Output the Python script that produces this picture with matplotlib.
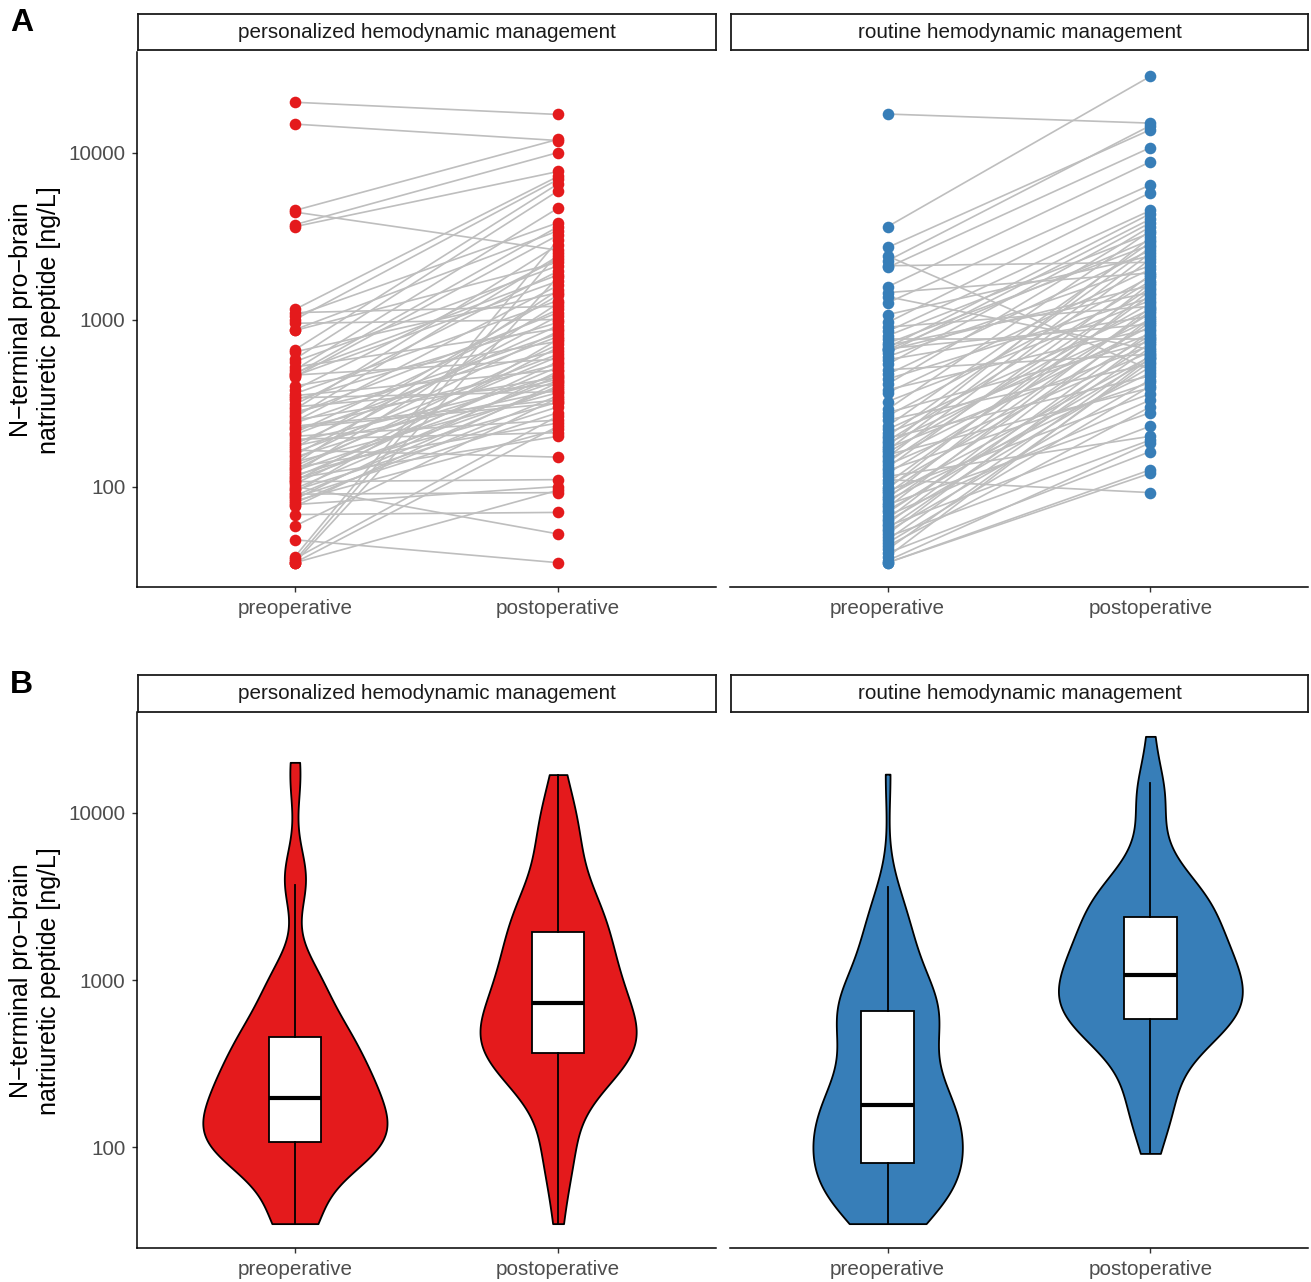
import numpy as np
import matplotlib.pyplot as plt

plt.rcParams['font.family'] = ['Liberation Sans', 'DejaVu Sans']

groups = ['personalized hemodynamic management', 'routine hemodynamic management']
timepoints = ['preoperative', 'postoperative']
group_colors = ['#E41A1C', '#377EB8']

# NT-proBNP [ng/L], one entry per patient (pre and post in the same order)
pers_pre = [20000, 14800, 4500, 4400, 3700, 3600, 1150, 1100, 1050, 1000,
            950, 870, 860, 660, 640, 580, 560, 520, 500, 480,
            470, 465, 460, 455, 400, 380, 360, 350, 340, 330,
            310, 300, 290, 280, 270, 260, 250, 245, 240, 230,
            225, 220, 210, 205, 200, 192, 185, 180, 175, 170,
            165, 160, 155, 150, 145, 140, 137, 133, 130, 127,
            124, 120, 117, 114, 112, 110, 108, 107, 104, 100,
            97, 95, 92, 90, 88, 86, 84, 82, 80, 78,
            76, 68, 58, 48, 38, 37, 36, 35, 35, 35]
pers_post = [16900, 11800, 12000, 2600, 10000, 7700, 7200, 1200, 3800, 6900,
             1000, 3400, 2200, 6500, 1450, 5900, 2100, 880, 4650, 1850,
             3600, 580, 1700, 3200, 740, 2300, 1300, 500, 370, 960,
             1950, 410, 2800, 650, 1100, 2400, 450, 1600, 820, 330,
             316, 540, 1150, 790, 250, 210, 440, 920, 380, 1400,
             150, 620, 1050, 470, 850, 365, 1500, 600, 240, 710,
             430, 1250, 320, 520, 200, 390, 680, 110, 560, 52,
             460, 300, 760, 92, 400, 277, 490, 220, 350, 100,
             420, 70, 340, 35, 3000, 265, 2500, 95, 1800, 230]

rout_pre = [17000, 3600, 2700, 2400, 2250, 2100, 2050, 1570, 1450, 1370,
            1260, 1070, 960, 900, 850, 800, 760, 720, 700, 680,
            670, 660, 655, 630, 600, 575, 540, 500, 470, 440,
            410, 380, 365, 323, 290, 277, 265, 250, 230, 220,
            210, 200, 195, 188, 182, 175, 170, 165, 160, 155,
            150, 145, 140, 135, 130, 125, 120, 115, 110, 105,
            100, 97, 94, 91, 88, 85, 83, 80, 78, 75,
            72, 70, 67, 64, 62, 60, 58, 56, 54, 52,
            50, 48, 46, 44, 42, 40, 38, 36, 35, 35]
rout_post = [15000, 28600, 13700, 500, 14500, 2200, 10700, 8800, 1900, 660,
             6400, 2400, 5750, 1200, 4500, 3300, 760, 2800, 1450, 4300,
             940, 3000, 1600, 4000, 2100, 1050, 3800, 620, 2600, 1350,
             3600, 880, 2000, 1300, 3400, 740, 1800, 540, 2900, 1150,
             820, 2700, 460, 1700, 1000, 3100, 700, 2500, 1250, 390,
             2300, 910, 1550, 640, 1850, 420, 1090, 200, 92, 1400,
             800, 1650, 360, 1120, 600, 1500, 480, 970, 277, 1180,
             580, 720, 330, 1020, 520, 850, 230, 680, 436, 780,
             190, 610, 400, 300, 560, 162, 590, 183, 126, 120]

pre_data = [pers_pre, rout_pre]
post_data = [pers_post, rout_post]

W, H = 1311, 1282
fig = plt.figure(figsize=(W / 100, H / 100), dpi=100)

# work on log10 values, label ticks with the raw values
all_log = np.log10(np.concatenate([pers_pre, pers_post, rout_pre, rout_post]))
span = all_log.max() - all_log.min()
ylim = (all_log.min() - 0.05 * span, all_log.max() + 0.05 * span)


def px_rect(x0, y0, x1, y1):
    return [x0 / W, 1 - y1 / H, (x1 - x0) / W, (y1 - y0) / H]


def nrd0(v):
    v = np.asarray(v)
    sd = v.std(ddof=1)
    iqr = np.subtract(*np.percentile(v, [75, 25]))
    return 0.9 * min(sd, iqr / 1.34) * len(v) ** -0.2


def max_density(v):
    h = nrd0(v)
    grid = np.linspace(v.min(), v.max(), 512)
    dens = np.exp(-0.5 * ((grid[:, None] - v[None, :]) / h) ** 2).sum(1)
    return dens.max() / (len(v) * h * np.sqrt(2 * np.pi))


def style_axes(ax, show_y):
    ax.set_xlim(0.4, 2.6)
    ax.set_ylim(*ylim)
    ax.set_xticks([1, 2])
    ax.set_xticklabels(timepoints)
    ax.set_yticks([2, 3, 4])
    ax.set_yticklabels(['100', '1000', '10000'])
    for s in ['top', 'right']:
        ax.spines[s].set_visible(False)
    ax.spines['bottom'].set_linewidth(1.1)
    ax.spines['left'].set_linewidth(1.1)
    ax.tick_params(axis='both', length=3.5, width=1.0, color='#333333',
                   labelcolor='#4D4D4D', labelsize=14.9, pad=5)
    if not show_y:
        ax.spines['left'].set_visible(False)
        ax.tick_params(axis='y', left=False, labelleft=False)


def add_strip(x0, x1, y0, y1, text):
    sax = fig.add_axes(px_rect(x0, y0, x1, y1))
    sax.set_xticks([])
    sax.set_yticks([])
    for s in sax.spines.values():
        s.set_linewidth(1.3)
        s.set_color('#1A1A1A')
    sax.text(0.5, 0.5, text, ha='center', va='center', fontsize=14.9,
             color='#1A1A1A', transform=sax.transAxes)


panel_x = [(137, 716), (730, 1308)]

# ---- A: paired values ----
for g in range(2):
    x0, x1 = panel_x[g]
    ax = fig.add_axes(px_rect(x0, 52, x1, 587))
    pre = np.log10(pre_data[g])
    post = np.log10(post_data[g])
    for a, b in zip(pre, post):
        ax.plot([1, 2], [a, b], color='#BEBEBE', lw=1.2, zorder=1)
    ax.scatter(np.full(len(pre), 1), pre, s=70, color=group_colors[g],
               linewidths=0, zorder=3)
    ax.scatter(np.full(len(post), 2), post, s=70, color=group_colors[g],
               linewidths=0, zorder=3)
    style_axes(ax, g == 0)
    add_strip(x0 + 1, x1, 14, 50, groups[g])

# ---- B: violins with boxplots ----
for g in range(2):
    x0, x1 = panel_x[g]
    ax = fig.add_axes(px_rect(x0, 712, x1, 1248))
    vals = [np.log10(pre_data[g]), np.log10(post_data[g])]
    dmax = [max_density(v) for v in vals]
    for i, v in enumerate(vals):
        factor = nrd0(v) / v.std(ddof=1)
        width = 0.7 * dmax[i] / max(dmax)
        parts = ax.violinplot(v, positions=[i + 1], widths=width,
                              bw_method=factor, showextrema=False,
                              points=400)
        for body in parts['bodies']:
            body.set_facecolor(group_colors[g])
            body.set_edgecolor('black')
            body.set_linewidth(1.3)
            body.set_alpha(1)
        ax.boxplot(v, positions=[i + 1], widths=0.2, patch_artist=True,
                   showfliers=False, showcaps=False,
                   boxprops=dict(facecolor='white', edgecolor='black', lw=1.3),
                   medianprops=dict(color='black', lw=3),
                   whiskerprops=dict(color='black', lw=1.3),
                   manage_ticks=False, zorder=3)
    style_axes(ax, g == 0)
    add_strip(x0 + 1, x1, 675, 712, groups[g])

ylabel = 'N\u2212terminal pro\u2212brain\nnatriuretic peptide [ng/L]'
fig.text(35 / W, 1 - 320 / H, ylabel, rotation=90, ha='center', va='center',
         fontsize=18, multialignment='center')
fig.text(35 / W, 1 - 981 / H, ylabel, rotation=90, ha='center', va='center',
         fontsize=18, multialignment='center')

fig.text(10 / W, 1 - 8 / H, 'A', fontsize=23, fontweight='bold', va='top')
fig.text(10 / W, 1 - 670 / H, 'B', fontsize=23, fontweight='bold', va='top')

fig.savefig('out.png', dpi=100, facecolor='white')
